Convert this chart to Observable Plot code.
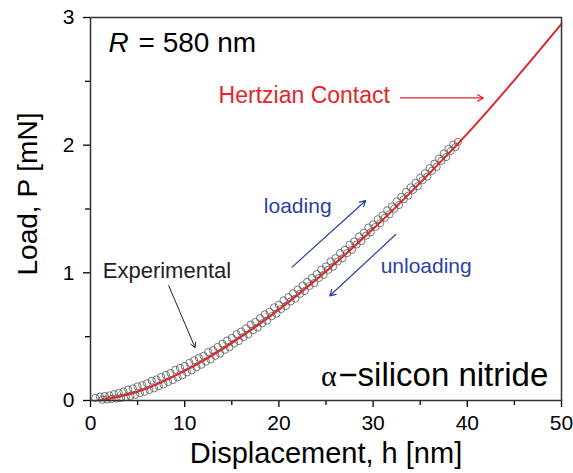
<!DOCTYPE html>
<html>
<head>
<meta charset="utf-8">
<script src="https://cdn.jsdelivr.net/npm/d3@7"></script>
<script src="https://cdn.jsdelivr.net/npm/@observablehq/plot@0.6"></script>
<style>
  html, body { margin: 0; padding: 0; background: #fff; }
</style>
</head>
<body>
<div id="chart"></div>
<script>
// Hertzian contact fit
const fitH = [1, 5, 10, 15, 20, 25, 30, 35, 40, 45, 50];
const fitP = [0, 0.069, 0.232, 0.45, 0.712, 1.011, 1.343, 1.705, 2.09, 2.51, 2.95];

// Experimental loading branch
const loadH = [0.5,1,1.5,2,2.5,3,3.5,4,4.5,5,5.5,6,6.5,7,7.5,8,8.5,9,9.5,10,10.5,11,11.5,12,12.5,13,13.5,14,14.5,15,15.5,16,16.5,17,17.5,18,18.5,19,19.5,20,20.5,21,21.5,22,22.5,23,23.5,24,24.5,25,25.5,26,26.5,27,27.5,28,28.5,29,29.5,30,30.5,31,31.5,32,32.5,33,33.5,34,34.5,35,35.5,36,36.5,37,37.5,38,38.5,39];
const loadP = [0.02,0.03,0.035,0.04,0.05,0.06,0.07,0.085,0.095,0.11,0.12,0.135,0.155,0.165,0.185,0.2,0.215,0.24,0.255,0.27,0.295,0.315,0.335,0.35,0.38,0.395,0.42,0.445,0.47,0.49,0.52,0.54,0.565,0.595,0.615,0.645,0.675,0.695,0.73,0.75,0.785,0.81,0.84,0.87,0.9,0.93,0.96,0.99,1.025,1.05,1.09,1.115,1.155,1.18,1.22,1.245,1.285,1.315,1.355,1.38,1.42,1.45,1.49,1.52,1.56,1.595,1.635,1.67,1.705,1.745,1.78,1.82,1.855,1.895,1.935,1.97,2.005,2.025];

// Experimental unloading branch
const unloadH = [1.25,1.75,2.25,2.75,3.25,3.75,4.25,4.75,5.25,5.75,6.25,6.75,7.25,7.75,8.25,8.75,9.25,9.75,10.25,10.75,11.25,11.75,12.25,12.75,13.25,13.75,14.25,14.75,15.25,15.75,16.25,16.75,17.25,17.75,18.25,18.75,19.25,19.75,20.25,20.75,21.25,21.75,22.25,22.75,23.25,23.75,24.25,24.75,25.25,25.75,26.25,26.75,27.25,27.75,28.25,28.75,29.25,29.75,30.25,30.75,31.25,31.75,32.25,32.75,33.25,33.75,34.25,34.75,35.25,35.75,36.25,36.75,37.25,37.75,38.25,38.75];
const unloadP = [0.005,0.008,0.012,0.016,0.02,0.027,0.036,0.045,0.058,0.068,0.083,0.095,0.112,0.126,0.145,0.16,0.181,0.197,0.22,0.236,0.26,0.28,0.305,0.322,0.35,0.368,0.397,0.417,0.447,0.466,0.497,0.517,0.55,0.571,0.605,0.625,0.66,0.681,0.717,0.74,0.776,0.798,0.836,0.858,0.897,0.92,0.96,0.984,1.024,1.048,1.089,1.114,1.155,1.18,1.222,1.248,1.291,1.317,1.36,1.388,1.431,1.459,1.503,1.531,1.576,1.605,1.65,1.679,1.725,1.754,1.8,1.83,1.877,1.907,1.954,1.985];

// Axis ticks
const xMajor = [0, 10, 20, 30, 40, 50];
const xMinor = [5, 15, 25, 35, 45];
const yMajor = [0, 1, 2, 3];
const yMinor = [0.5, 1.5, 2.5];

// Annotation texts and anchor positions (data units)
const annText = ["R", "= 580 nm", "Hertzian Contact", "loading", "unloading", "Experimental", "α", "−silicon nitride"];
const annX = [1.9, 5.1, 13.6, 18.4, 30.8, 1.3, 26.15, 48.6];
const annY = [2.726, 2.726, 2.334, 1.465, 0.995, 0.963, 0.117, 0.117];

// Arrows: [x1, y1, x2, y2]
const arrowNames = ["hertz", "loading", "unloading", "experimental"];
const arrX1 = [32.9, 21.4, 32.4, 8.3];
const arrY1 = [2.37, 1.045, 1.30, 0.90];
const arrX2 = [41.7, 29.2, 25.4, 11.1];
const arrY2 = [2.37, 1.565, 0.82, 0.415];

const fit = fitH.map((h, i) => ({h, P: fitP[i]}));
const loading = loadH.map((h, i) => ({h, P: loadP[i]}));
const unloading = unloadH.map((h, i) => ({h, P: unloadP[i]}));
const arrows = arrowNames.map((n, i) => ({n, x1: arrX1[i], y1: arrY1[i], x2: arrX2[i], y2: arrY2[i]}));
const ann = annText.map((t, i) => ({t, x: annX[i], y: annY[i]}));

const RED = "#e3262b";
const BLUE = "#2b3fa6";

const chart = Plot.plot({
  width: 573,
  height: 473,
  marginLeft: 90,
  marginRight: 12,
  marginTop: 17,
  marginBottom: 73,
  x: {domain: [0, 50]},
  y: {domain: [0, 3]},
  style: {fontFamily: "'Liberation Sans', Arial, sans-serif", background: "#fff", color: "#000"},
  marks: [
    Plot.dot(loading, {x: "h", y: "P", r: 3.6, stroke: "#555", strokeWidth: 0.8, fill: "none"}),
    Plot.dot(unloading, {x: "h", y: "P", r: 3.6, stroke: "#555", strokeWidth: 0.8, fill: "none"}),
    Plot.line(fit, {x: "h", y: "P", stroke: RED, strokeWidth: 2, curve: "monotone-x"}),
    Plot.arrow(arrows.filter(d => d.n === "hertz"), {x1: "x1", y1: "y1", x2: "x2", y2: "y2", stroke: RED, strokeWidth: 1.2, headLength: 8}),
    Plot.arrow(arrows.filter(d => d.n === "loading" || d.n === "unloading"), {x1: "x1", y1: "y1", x2: "x2", y2: "y2", stroke: BLUE, strokeWidth: 1.2, headLength: 8}),
    Plot.arrow(arrows.filter(d => d.n === "experimental"), {x1: "x1", y1: "y1", x2: "x2", y2: "y2", stroke: "#222", strokeWidth: 1, headLength: 8}),
    Plot.text(ann.slice(0, 1), {x: "x", y: "y", text: "t", fontSize: 28, fontStyle: "italic", textAnchor: "start", lineAnchor: "bottom", fill: "#000"}),
    Plot.text(ann.slice(1, 2), {x: "x", y: "y", text: "t", fontSize: 28, textAnchor: "start", lineAnchor: "bottom", fill: "#000"}),
    Plot.text(ann.slice(2, 3), {x: "x", y: "y", text: "t", fontSize: 23, textAnchor: "start", lineAnchor: "bottom", fill: RED}),
    Plot.text(ann.slice(3, 5), {x: "x", y: "y", text: "t", fontSize: 21, textAnchor: "start", lineAnchor: "bottom", fill: BLUE}),
    Plot.text(ann.slice(5, 6), {x: "x", y: "y", text: "t", fontSize: 22, textAnchor: "start", lineAnchor: "bottom", fill: "#222"}),
    Plot.text(ann.slice(6, 7), {x: "x", y: "y", text: "t", fontSize: 30, fontFamily: "'Liberation Serif', 'DejaVu Serif', serif", textAnchor: "end", lineAnchor: "bottom", fill: "#000"}),
    Plot.text(ann.slice(7, 8), {x: "x", y: "y", text: "t", fontSize: 33, textAnchor: "end", lineAnchor: "bottom", fill: "#000"}),
    Plot.axisX({ticks: xMajor, tickSize: 7, tickPadding: 8, fontSize: 21, label: null, strokeWidth: 1.3}),
    Plot.axisX({ticks: xMinor, tickSize: 5, text: null, label: null, strokeWidth: 1.3}),
    Plot.axisY({ticks: yMajor, tickSize: 7, tickPadding: 9, fontSize: 21, tickFormat: "d", label: null, strokeWidth: 1.3}),
    Plot.axisY({ticks: yMinor, tickSize: 5, text: null, label: null, strokeWidth: 1.3}),
    Plot.frame({stroke: "#333", strokeWidth: 1.5}),
    Plot.text(["Displacement, h [nm]"], {frameAnchor: "bottom", dy: 62, fontSize: 29, textAnchor: "middle", lineAnchor: "bottom", fill: "#000"}),
    Plot.text(["Load, P [mN]"], {frameAnchor: "left", rotate: -90, dx: -54, dy: -15, fontSize: 28, textAnchor: "middle", lineAnchor: "bottom", fill: "#000"})
  ]
});
document.getElementById("chart").appendChild(chart);
</script>
</body>
</html>
